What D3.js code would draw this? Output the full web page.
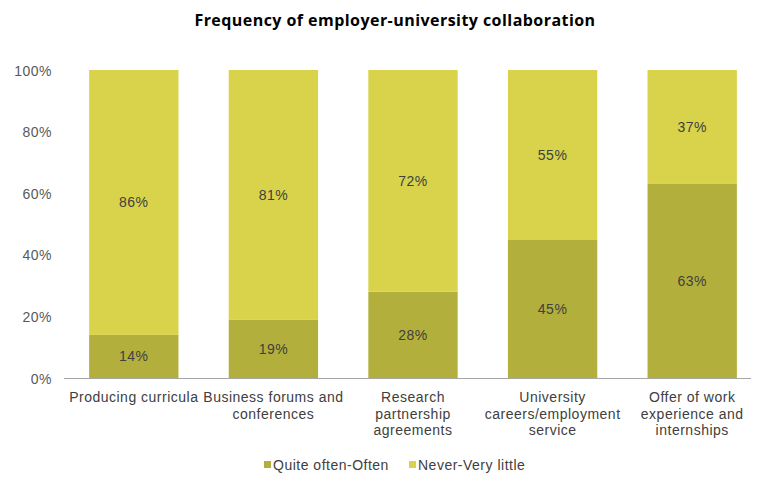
<!DOCTYPE html>
<html>
<head>
<meta charset="utf-8">
<script src="https://cdn.jsdelivr.net/npm/d3@7"></script>
<style>
  body { margin: 0; background: #fff; }
  svg text { font-family: "Liberation Sans", Arial, sans-serif; letter-spacing: 0.5px; }
</style>
</head>
<body>
<div id="container"></div>
<script>
/* CONSTANTS AND GLOBALS */
const width = 775;
const height = 487;
const margin = { top: 70, right: 14, bottom: 109, left: 64 };

/* DATA */
const categories = ["Producing curricula", "Business forums and conferences", "Research partnership agreements", "University careers/employment service", "Offer of work experience and internships"];
const categoryLines = [
  ["Producing curricula"],
  ["Business forums and", "conferences"],
  ["Research", "partnership", "agreements"],
  ["University", "careers/employment", "service"],
  ["Offer of work", "experience and", "internships"]
];
const seriesNames = ["Quite often-Often", "Never-Very little"];
const quiteOften = [14, 19, 28, 45, 63];
const neverLittle = [86, 81, 72, 55, 37];
const yTicks = [0, 20, 40, 60, 80, 100];

const rows = categories.map((c, i) => ({ category: c, "Quite often-Often": quiteOften[i], "Never-Very little": neverLittle[i] }));

/* COLORS */
const colorScale = d3.scaleOrdinal()
  .domain(seriesNames)
  .range(["#B3AF3C", "#D8D34B"]);

const svg = d3.select("#container")
  .append("svg")
  .attr("width", width)
  .attr("height", height);

/* SCALES */
const xScale = d3.scaleBand()
  .domain(categories)
  .range([margin.left, width - margin.right + 1])
  .paddingInner(0.36)
  .paddingOuter(0.18);

const yScale = d3.scaleLinear()
  .domain([0, 100])
  .range([height - margin.bottom, margin.top]);

const stacked = d3.stack().keys(seriesNames)(rows);

/* TITLE */
svg.append("text")
  .attr("x", 395)
  .attr("y", 26)
  .attr("text-anchor", "middle")
  .style("font-family", "'Open Sans', sans-serif")
  .style("letter-spacing", "0.45px")
  .style("font-weight", "bold")
  .style("font-size", "16px")
  .style("fill", "#000")
  .text("Frequency of employer-university collaboration");

/* Y AXIS (labels only) */
const yAxis = d3.axisLeft(yScale)
  .tickValues(yTicks)
  .tickFormat(d => d + "%")
  .tickSize(0)
  .tickPadding(12);
svg.append("g")
  .attr("transform", `translate(${margin.left}, 0)`)
  .call(yAxis)
  .attr("font-family", null)
  .call(g => g.select(".domain").remove())
  .selectAll("text")
  .attr("dy", "0.36em")
  .style("font-size", "14px")
  .style("fill", "#595959");

/* BARS */
svg.selectAll(".series")
  .data(stacked)
  .join("g")
  .attr("class", "series")
  .attr("fill", d => colorScale(d.key))
  .selectAll("rect")
  .data(d => d.map(v => ({ ...v, key: d.key })))
  .join("rect")
  .attr("x", d => xScale(d.data.category))
  .attr("y", d => yScale(d[1]))
  .attr("width", xScale.bandwidth())
  .attr("height", d => yScale(d[0]) - yScale(d[1]));

/* VALUE LABELS */
svg.selectAll(".series")
  .selectAll(".val")
  .data(d => d.map(v => ({ ...v, key: d.key })))
  .join("text")
  .attr("class", "val")
  .attr("x", d => xScale(d.data.category) + xScale.bandwidth() / 2)
  .attr("y", d => (yScale(d[0]) + yScale(d[1])) / 2 + 5)
  .attr("text-anchor", "middle")
  .style("font-size", "14px")
  .style("fill", "#404040")
  .text(d => (d[1] - d[0]) + "%");

/* X AXIS */
const xAxis = d3.axisBottom(xScale).tickSize(0).tickFormat("");
const xg = svg.append("g")
  .attr("transform", `translate(0, ${height - margin.bottom})`)
  .call(xAxis)
  .attr("font-family", null);
xg.select(".domain")
  .attr("stroke", "#A6A6A6")
  .attr("d", `M${margin.left},0.5H${width - margin.right - 10}`);

xg.selectAll(".tick")
  .data(categoryLines)
  .each(function (lines) {
    const t = d3.select(this).append("text")
      .attr("text-anchor", "middle")
      .attr("fill", "#404040")
      .style("font-size", "14px")
      .attr("y", 24);
    lines.forEach((l, i) => {
      t.append("tspan").attr("x", 0).attr("dy", i === 0 ? 0 : 16.5).text(l);
    });
  });

/* LEGEND */
const legendX = [264, 409];
const legend = svg.selectAll(".legend")
  .data(seriesNames)
  .join("g")
  .attr("class", "legend")
  .attr("transform", (d, i) => `translate(${legendX[i]}, 470)`);
legend.append("rect")
  .attr("x", 0)
  .attr("y", -9)
  .attr("width", 7)
  .attr("height", 7)
  .attr("fill", d => colorScale(d));
legend.append("text")
  .attr("x", 9)
  .attr("y", 0)
  .style("font-size", "14px")
  .style("fill", "#404040")
  .text(d => d);
</script>
</body>
</html>
